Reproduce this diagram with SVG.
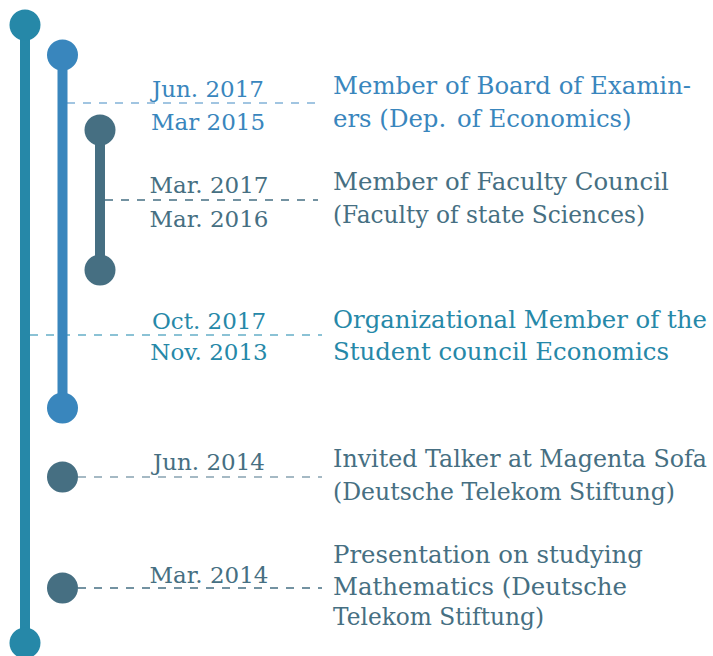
<svg xmlns="http://www.w3.org/2000/svg" width="713" height="656" viewBox="0 0 713 656">
<style>
text{font-family:"DejaVu Serif","Liberation Serif",serif;font-size:24.4px}
.d{text-anchor:middle;font-size:23px}
.teal{fill:#2688a8}.blue{fill:#3986bd}.slate{fill:#466f82}
.dash{fill:none;stroke-width:1.3;stroke-dasharray:8 8}
.bar{stroke-width:10;fill:none}
</style>
<rect width="713" height="656" fill="#fff"/>
<g id="connectors">
<line class="dash" x1="67" y1="103" x2="323" y2="103" stroke="#82b2d8"/>
<line class="dash" x1="105" y1="200" x2="318" y2="200" stroke="#466f82"/>
<line class="dash" x1="30" y1="335" x2="322" y2="335" stroke="#66aec7"/>
<line class="dash" x1="78" y1="477" x2="322" y2="477" stroke="#88a3b1"/>
<line class="dash" x1="78" y1="588" x2="322" y2="588" stroke="#466f82"/>
</g>
<g id="track1">
<line class="bar" x1="25" y1="25" x2="25" y2="643" stroke="#2688a8"/>
<circle cx="25" cy="25" r="15.5" fill="#2688a8"/>
<circle cx="25" cy="643" r="15.5" fill="#2688a8"/>
</g>
<g id="track2">
<line class="bar" x1="62.5" y1="55" x2="62.5" y2="408" stroke="#3986bd"/>
<circle cx="62.5" cy="55" r="15.5" fill="#3986bd"/>
<circle cx="62.5" cy="408" r="15.5" fill="#3986bd"/>
</g>
<g id="track3">
<line class="bar" x1="100" y1="130" x2="100" y2="270" stroke="#466f82"/>
<circle cx="100" cy="130" r="15.5" fill="#466f82"/>
<circle cx="100" cy="270" r="15.5" fill="#466f82"/>
</g>
<g id="dot4"><circle cx="62.5" cy="477" r="15.5" fill="#466f82"/></g>
<g id="dot5"><circle cx="62.5" cy="588" r="15.5" fill="#466f82"/></g>
<g id="entry1" class="blue">
<text class="d" x="208" y="97">Jun. 2017</text>
<text class="d" x="208" y="130">Mar 2015</text>
<text x="333" y="94">Member of Board of Examin-</text>
<text x="333" y="127">ers (Dep. <tspan dx="3">of Economics)</tspan></text>
</g>
<g id="entry2" class="slate">
<text class="d" x="209" y="193">Mar. 2017</text>
<text class="d" x="209" y="227">Mar. 2016</text>
<text x="333" y="190">Member of Faculty Council</text>
<text x="333" y="223" textLength="312" lengthAdjust="spacingAndGlyphs">(Faculty of state Sciences)</text>
</g>
<g id="entry3" class="teal">
<text class="d" x="209" y="329">Oct. 2017</text>
<text class="d" x="209" y="360">Nov. 2013</text>
<text x="333" y="328" textLength="374" lengthAdjust="spacingAndGlyphs">Organizational Member of the</text>
<text x="333" y="360">Student council Economics</text>
</g>
<g id="entry4" class="slate">
<text class="d" x="209" y="470">Jun. 2014</text>
<text x="333" y="467" style="font-size:23.8px" textLength="374" lengthAdjust="spacingAndGlyphs">Invited Talker at Magenta Sofa</text>
<text x="333" y="500" textLength="342" lengthAdjust="spacingAndGlyphs">(Deutsche Telekom Stiftung)</text>
</g>
<g id="entry5" class="slate">
<text class="d" x="209" y="583">Mar. 2014</text>
<text x="333" y="563">Presentation on studying</text>
<text x="333" y="595">Mathematics (Deutsche</text>
<text x="333" y="625" textLength="211" lengthAdjust="spacingAndGlyphs">Telekom Stiftung)</text>
</g>
</svg>
